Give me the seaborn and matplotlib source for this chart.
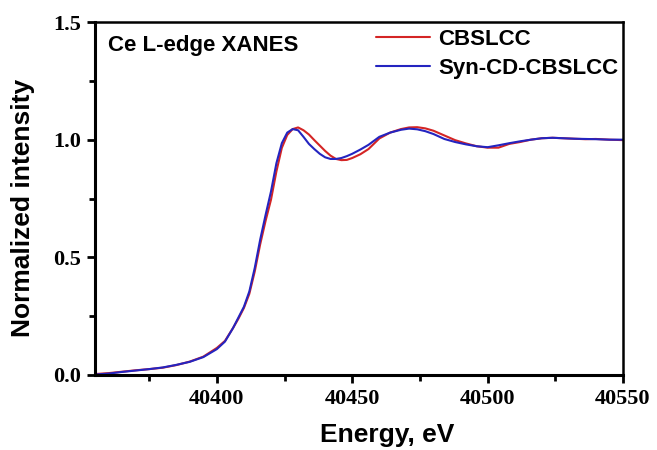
import matplotlib
matplotlib.use("Agg")
import matplotlib.pyplot as plt
import seaborn as sns
import pandas as pd
from matplotlib.ticker import AutoMinorLocator

energy = [40355, 40360, 40365, 40370, 40375, 40380, 40385, 40390, 40395, 40400,
          40403, 40406, 40408, 40410, 40412, 40414, 40416, 40418, 40420, 40422,
          40424, 40426, 40428, 40430, 40432, 40434, 40436, 40438, 40440, 40442,
          40444, 40446, 40448, 40450, 40453, 40456, 40460, 40464, 40468, 40471,
          40474, 40477, 40480, 40484, 40488, 40492, 40496, 40500, 40504, 40508,
          40512, 40516, 40520, 40524, 40528, 40532, 40536, 40540, 40545, 40550]

cbslcc = [0.004, 0.008, 0.014, 0.020, 0.025, 0.031, 0.042, 0.057, 0.078, 0.115,
          0.145, 0.200, 0.240, 0.285, 0.345, 0.440, 0.555, 0.655, 0.745, 0.865,
          0.965, 1.020, 1.045, 1.052, 1.040, 1.022, 0.998, 0.975, 0.952, 0.932,
          0.918, 0.913, 0.914, 0.922, 0.938, 0.960, 1.005, 1.030, 1.045, 1.052,
          1.053, 1.048, 1.038, 1.018, 0.998, 0.984, 0.972, 0.966, 0.966, 0.982,
          0.990, 1.000, 1.006, 1.008, 1.006, 1.004, 1.002, 1.003, 1.000, 0.998]

syn_cd = [0.002, 0.006, 0.013, 0.019, 0.025, 0.032, 0.043, 0.056, 0.076, 0.110,
          0.142, 0.200, 0.245, 0.290, 0.355, 0.455, 0.575, 0.680, 0.780, 0.900,
          0.985, 1.030, 1.045, 1.040, 1.012, 0.982, 0.960, 0.940, 0.925, 0.918,
          0.918, 0.922, 0.930, 0.940, 0.958, 0.978, 1.012, 1.030, 1.042, 1.047,
          1.044, 1.036, 1.024, 1.003, 0.990, 0.980, 0.972, 0.968, 0.976, 0.985,
          0.993, 1.000, 1.006, 1.008, 1.006, 1.004, 1.003, 1.002, 1.000, 1.000]

series_names = ["CBSLCC", "Syn-CD-CBSLCC"]
series_colors = ["#D42525", "#2424C0"]
x_ticks = [40400, 40450, 40500, 40550]
y_ticks = [0.0, 0.5, 1.0, 1.5]

df = pd.concat([
    pd.DataFrame({"Energy": energy, "Intensity": cbslcc, "Sample": series_names[0]}),
    pd.DataFrame({"Energy": energy, "Intensity": syn_cd, "Sample": series_names[1]}),
], ignore_index=True)

sns.set_style("ticks")
plt.rcParams["text.color"] = "black"
plt.rcParams["axes.labelcolor"] = "black"
plt.rcParams["xtick.color"] = "black"
plt.rcParams["ytick.color"] = "black"

fig = plt.figure(figsize=(6.57, 4.5), dpi=100)
ax = fig.add_axes([95/657, 1-375/450, (623-95)/657, (375-22)/450])

sns.lineplot(data=df, x="Energy", y="Intensity", hue="Sample",
             palette=dict(zip(series_names, series_colors)),
             linewidth=1.5, ax=ax, sort=False)

ax.set_xlim(40355, 40550)
ax.set_ylim(0, 1.5)
ax.set_xticks(x_ticks)
ax.set_yticks(y_ticks)
ax.set_xticklabels([str(t) for t in x_ticks])
ax.set_yticklabels([f"{t:.1f}" for t in y_ticks])
ax.xaxis.set_minor_locator(AutoMinorLocator(2))
ax.yaxis.set_minor_locator(AutoMinorLocator(2))

for lab in ax.get_xticklabels() + ax.get_yticklabels():
    lab.set_fontfamily("Liberation Serif")
    lab.set_fontweight("bold")
    lab.set_fontsize(16)
    lab.set_color("black")

ax.tick_params(which="major", direction="out", length=6, width=2, color="black", pad=4)
ax.tick_params(which="minor", direction="out", length=4, width=2, color="black")
ax.tick_params(top=False, right=False, which="both")
for side in ["left", "bottom"]:
    ax.spines[side].set_linewidth(2.2)
for side in ["top", "right"]:
    ax.spines[side].set_linewidth(1.8)
for s in ax.spines.values():
    s.set_color("black")

ax.set_xlabel("Energy, eV", fontfamily="Liberation Sans", fontweight="bold",
              fontsize=19, color="black", va="top")
ax.xaxis.set_label_coords((387 - 95) / 528, (375 - 423) / 353)
ax.set_ylabel("Normalized intensity", fontfamily="Liberation Sans", fontweight="bold",
              fontsize=19, color="black")
ax.yaxis.set_label_coords((35 - 95) / 528, (375 - 208) / 353)

ax.text((108 - 95) / 528, (375 - 51.5) / 353, "Ce L-edge XANES", transform=ax.transAxes,
        ha="left", va="baseline", color="black",
        fontfamily="Liberation Sans", fontweight="bold", fontsize=16)

leg = ax.legend(loc="upper right", bbox_to_anchor=(1.017, 1.018), frameon=False,
                handlelength=2.4, handletextpad=0.4, labelspacing=0.35,
                borderaxespad=0.2,
                prop={"family": "Liberation Sans", "weight": "bold", "size": 16})
for line in leg.get_lines():
    line.set_linewidth(1.5)
for t in leg.get_texts():
    t.set_color("black")

fig.savefig("out.png", dpi=100, facecolor="white")
